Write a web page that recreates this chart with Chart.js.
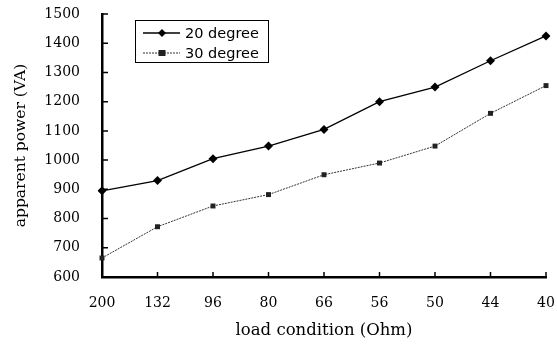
<!DOCTYPE html>
<html>
<head>
<meta charset="utf-8">
<script src="https://cdn.jsdelivr.net/npm/chart.js@4"></script>
<style>
  html, body { margin: 0; padding: 0; background: #fff; }
  #wrap { width: 557px; height: 347px; }
</style>
</head>
<body>
<div id="wrap"><canvas id="chart"></canvas></div>
<script>
// load condition (Ohm) on the x axis
var loads = ['200', '132', '96', '80', '66', '56', '50', '44', '40'];
var deg20 = [895, 930, 1005, 1048, 1105, 1200, 1250, 1340, 1425];
var deg30 = [665, 772, 843, 882, 950, 990, 1048, 1160, 1255];
var yTicks = [600, 700, 800, 900, 1000, 1100, 1200, 1300, 1400, 1500];

var serif = '"DejaVu Serif", "Liberation Serif", serif';

// short tick marks pointing into the plot, like the original
var innerTicks = {
    id: 'innerTicks',
    afterDraw: function(chart) {
        var c = chart.ctx, x = chart.scales.x, y = chart.scales.y;
        c.save();
        c.strokeStyle = '#000';
        c.lineWidth = 1.5;
        c.beginPath();
        yTicks.forEach(function(v) {
            var py = y.getPixelForValue(v);
            c.moveTo(x.left, py); c.lineTo(x.left + 6, py);
        });
        loads.forEach(function(l, i) {
            var px = x.getPixelForValue(i);
            c.moveTo(px, y.bottom); c.lineTo(px, y.bottom - 5);
        });
        c.stroke();
        c.restore();
    }
};

// legend in a box inside the plot
var boxLegend = {
    id: 'boxLegend',
    afterDraw: function(chart) {
        var c = chart.ctx;
        var bx = 135, by = 20, bw = 133, bh = 42;
        c.save();
        c.fillStyle = '#fff';
        c.fillRect(bx, by, bw, bh);
        c.strokeStyle = '#000';
        c.lineWidth = 1;
        c.strokeRect(bx + 0.5, by + 0.5, bw, bh);
        chart.data.datasets.forEach(function(ds, i) {
            var ry = by + 13 + i * 20;
            c.strokeStyle = ds.borderColor;
            c.lineWidth = ds.borderWidth;
            c.setLineDash(ds.borderDash || []);
            c.beginPath();
            c.moveTo(bx + 8, ry); c.lineTo(bx + 45, ry);
            c.stroke();
            c.setLineDash([]);
            c.fillStyle = ds.pointBackgroundColor;
            var mx = bx + 27;
            if (ds.pointStyle === 'rectRot') {
                c.beginPath();
                c.moveTo(mx, ry - 4); c.lineTo(mx + 4, ry); c.lineTo(mx, ry + 4); c.lineTo(mx - 4, ry);
                c.closePath(); c.fill();
            } else {
                c.fillRect(mx - 3.5, ry - 3, 7, 6);
            }
            c.fillStyle = '#000';
            c.font = '14.5px "DejaVu Sans", sans-serif';
            c.textBaseline = 'middle';
            c.fillText(ds.label, bx + 50, ry + 1);
        });
        c.restore();
    }
};

var ctx = document.getElementById('chart').getContext('2d');
var chart = new Chart(ctx, {
    type: 'line',
    data: {
        labels: loads,
        datasets: [{
            label: '20 degree',
            data: deg20,
            borderColor: '#000',
            borderWidth: 1.3,
            pointStyle: 'rectRot',
            pointRadius: 4.5,
            pointBackgroundColor: '#000',
            pointBorderColor: '#000',
            pointBorderWidth: 0,
            tension: 0
        }, {
            label: '30 degree',
            data: deg30,
            borderColor: '#333',
            borderWidth: 1,
            borderDash: [2, 1],
            pointStyle: 'rect',
            pointRadius: 3.5,
            pointBackgroundColor: '#222',
            pointBorderColor: '#222',
            pointBorderWidth: 0,
            tension: 0
        }]
    },
    options: {
        responsive: true,
        maintainAspectRatio: false,
        animation: false,
        layout: { padding: { top: 14, right: 11, left: 0, bottom: 0 } },
        plugins: {
            legend: { display: false },
            tooltip: { enabled: false }
        },
        scales: {
            x: {
                offset: false,
                grid: { display: false, drawTicks: false },
                border: { display: true, color: '#000', width: 2.5 },
                ticks: {
                    color: '#000',
                    padding: 18,
                    maxRotation: 0,
                    font: { family: serif, size: 14 }
                },
                title: {
                    display: true,
                    text: 'load condition (Ohm)',
                    color: '#000',
                    padding: { top: 10, bottom: 6 },
                    font: { family: serif, size: 16.5 }
                },
                afterFit: function(s) {
                    s.height = 70;
                    s.paddingLeft = 0; s.paddingRight = 0;
                }
            },
            y: {
                min: 600,
                max: 1500,
                grid: { display: false, drawTicks: false },
                border: { display: true, color: '#000', width: 2.5 },
                ticks: {
                    stepSize: 100,
                    color: '#000',
                    padding: 22,
                    font: { family: serif, size: 14 },
                    callback: function(v) { return String(v); }
                },
                title: {
                    display: true,
                    text: 'apparent power (VA)',
                    color: '#000',
                    padding: { top: 11.5, bottom: 4 },
                    font: { family: serif, size: 15.5 }
                },
                afterFit: function(s) {
                    s.width = 102;
                    s.paddingTop = 0; s.paddingBottom = 0;
                }
            }
        }
    },
    plugins: [innerTicks, boxLegend]
});
</script>
</body>
</html>
